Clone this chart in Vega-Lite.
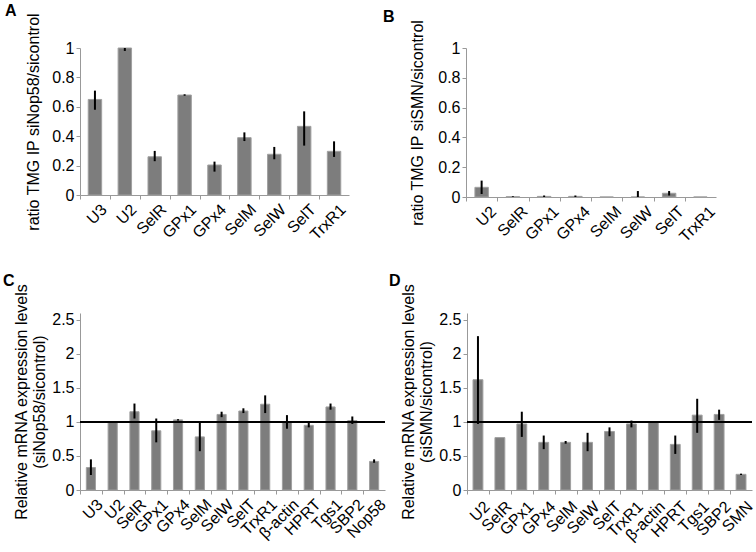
{
  "$schema": "https://vega.github.io/schema/vega-lite/v6.json",
  "padding": {"left": 3, "top": 2, "right": 0, "bottom": 0},
  "background": "white",
  "config": {
    "font": "Liberation Sans",
    "view": {"stroke": null},
    "axis": {"labelFontSize": 16, "titleFontSize": 16, "labelColor": "black", "titleColor": "black", "titleFontWeight": "normal", "domainColor": "#999999", "tickColor": "#999999", "grid": false, "tickSize": 4, "labelOverlap": false},
    "title": {"fontSize": 16, "fontWeight": "bold", "anchor": "start", "frame": "group", "color": "black"}
  },
  "datasets": {
    "A": [
      {"g": "U3", "v": 0.65, "lo": 0.58, "hi": 0.71},
      {"g": "U2", "v": 1.0, "lo": 0.98, "hi": 1.0},
      {"g": "SelR", "v": 0.26, "lo": 0.23, "hi": 0.30},
      {"g": "GPx1", "v": 0.68, "lo": 0.675, "hi": 0.685},
      {"g": "GPx4", "v": 0.204, "lo": 0.159, "hi": 0.227},
      {"g": "SelM", "v": 0.39, "lo": 0.367, "hi": 0.426},
      {"g": "SelW", "v": 0.277, "lo": 0.243, "hi": 0.327},
      {"g": "SelT", "v": 0.467, "lo": 0.336, "hi": 0.569},
      {"g": "TrxR1", "v": 0.297, "lo": 0.259, "hi": 0.365}
    ],
    "B": [
      {"g": "U2", "v": 0.065, "lo": 0.02, "hi": 0.11},
      {"g": "SelR", "v": 0.002, "lo": 0.0, "hi": 0.005},
      {"g": "GPx1", "v": 0.004, "lo": 0.0, "hi": 0.01},
      {"g": "GPx4", "v": 0.004, "lo": 0.0, "hi": 0.01},
      {"g": "SelM", "v": 0.0, "lo": 0.0, "hi": 0.0},
      {"g": "SelW", "v": 0.0, "lo": 0.0, "hi": 0.04},
      {"g": "SelT", "v": 0.025, "lo": 0.01, "hi": 0.04},
      {"g": "TrxR1", "v": 0.0, "lo": 0.0, "hi": 0.0}
    ],
    "C": [
      {"g": "U3", "v": 0.33, "lo": 0.22, "hi": 0.45},
      {"g": "U2", "v": 1.0, "lo": 1.0, "hi": 1.0},
      {"g": "SelR", "v": 1.15, "lo": 1.05, "hi": 1.27},
      {"g": "GPx1", "v": 0.87, "lo": 0.7, "hi": 1.05},
      {"g": "GPx4", "v": 1.03, "lo": 1.02, "hi": 1.04},
      {"g": "SelM", "v": 0.78, "lo": 0.57, "hi": 1.0},
      {"g": "SelW", "v": 1.11, "lo": 1.07, "hi": 1.15},
      {"g": "SelT", "v": 1.16, "lo": 1.13, "hi": 1.2},
      {"g": "TrxR1", "v": 1.26, "lo": 1.13, "hi": 1.39},
      {"g": "β-actin", "v": 1.0, "lo": 0.9, "hi": 1.1},
      {"g": "HPRT", "v": 0.95, "lo": 0.92, "hi": 0.99},
      {"g": "Tgs1", "v": 1.22, "lo": 1.18, "hi": 1.27},
      {"g": "SBP2", "v": 1.02, "lo": 0.97, "hi": 1.08},
      {"g": "Nop58", "v": 0.42, "lo": 0.4, "hi": 0.45}
    ],
    "D": [
      {"g": "U2", "v": 1.62, "lo": 0.97, "hi": 2.26},
      {"g": "SelR", "v": 0.77, "lo": 0.77, "hi": 0.77},
      {"g": "GPx1", "v": 0.97, "lo": 0.78, "hi": 1.15},
      {"g": "GPx4", "v": 0.7, "lo": 0.6, "hi": 0.8},
      {"g": "SelM", "v": 0.7, "lo": 0.68, "hi": 0.72},
      {"g": "SelW", "v": 0.7, "lo": 0.57, "hi": 0.84},
      {"g": "SelT", "v": 0.86, "lo": 0.79, "hi": 0.92},
      {"g": "TrxR1", "v": 0.97, "lo": 0.92, "hi": 1.02},
      {"g": "β-actin", "v": 1.0, "lo": 1.0, "hi": 1.0},
      {"g": "HPRT", "v": 0.67, "lo": 0.53, "hi": 0.8},
      {"g": "Tgs1", "v": 1.1, "lo": 0.84, "hi": 1.34},
      {"g": "SBP2", "v": 1.11, "lo": 1.03, "hi": 1.18},
      {"g": "SMN", "v": 0.23, "lo": 0.22, "hi": 0.24}
    ]
  },
  "vconcat": [
    {
      "hconcat": [
        {
          "title": {"text": "A", "dx": -75, "offset": -6},
          "width": 269, "height": 147,
          "data": {"name": "A"},
          "layer": [
            {"mark": {"type": "bar", "color": "#7d7d7d", "stroke": "#a0a0a0", "strokeWidth": 1},
              "encoding": {
                "x": {"field": "g", "type": "nominal", "sort": null, "scale": {"paddingInner": 0.55, "paddingOuter": 0.275},
                  "axis": {"title": null, "labelAngle": -45, "labelAlign": "right", "labelBaseline": "top", "tickOffset": -14.94, "labelOffset": 18, "labelPadding": 2}},
                "y": {"field": "v", "type": "quantitative", "scale": {"domain": [0, 1]},
                  "axis": {"title": "ratio TMG IP siNop58/sicontrol", "values": [0, 0.2, 0.4, 0.6, 0.8, 1], "format": "~g", "titlePadding": 10, "labelOverlap": false}}}},
            {"mark": {"type": "rule", "color": "black", "strokeWidth": 2},
              "encoding": {
                "x": {"field": "g", "type": "nominal", "sort": null},
                "y": {"field": "lo", "type": "quantitative",
                  "axis": {"title": "ratio TMG IP siNop58/sicontrol", "values": [0, 0.2, 0.4, 0.6, 0.8, 1], "format": "~g", "titlePadding": 10, "labelOverlap": false}},
                "y2": {"field": "hi"}}}
          ]
        },
        {
          "title": {"text": "B", "dx": -83, "offset": -6},
          "width": 250, "height": 149,
          "data": {"name": "B"},
          "layer": [
            {"mark": {"type": "bar", "color": "#7d7d7d", "stroke": "#a0a0a0", "strokeWidth": 1},
              "encoding": {
                "x": {"field": "g", "type": "nominal", "sort": null, "scale": {"paddingInner": 0.57, "paddingOuter": 0.285},
                  "axis": {"title": null, "labelAngle": -45, "labelAlign": "right", "labelBaseline": "top", "tickOffset": -15.6, "labelOffset": 21.6, "labelPadding": 2}},
                "y": {"field": "v", "type": "quantitative", "scale": {"domain": [0, 1]},
                  "axis": {"title": "ratio TMG IP siSMN/sicontrol", "values": [0, 0.2, 0.4, 0.6, 0.8, 1], "format": "~g", "titlePadding": 12, "labelOverlap": false}}}},
            {"mark": {"type": "rule", "color": "black", "strokeWidth": 2},
              "encoding": {
                "x": {"field": "g", "type": "nominal", "sort": null},
                "y": {"field": "lo", "type": "quantitative",
                  "axis": {"title": "ratio TMG IP siSMN/sicontrol", "values": [0, 0.2, 0.4, 0.6, 0.8, 1], "format": "~g", "titlePadding": 12, "labelOverlap": false}},
                "y2": {"field": "hi"}}}
          ]
        }
      ],
      "spacing": 34
    },
    {
      "hconcat": [
        {
          "title": {"text": "C", "dx": -77, "offset": -6},
          "width": 305, "height": 177,
          "data": {"name": "C"},
          "layer": [
            {"mark": {"type": "bar", "color": "#7d7d7d", "stroke": "#a0a0a0", "strokeWidth": 1},
              "encoding": {
                "x": {"field": "g", "type": "nominal", "sort": null, "scale": {"paddingInner": 0.58, "paddingOuter": 0.29},
                  "axis": {"title": null, "labelAngle": -45, "labelAlign": "right", "labelBaseline": "top", "tickOffset": -10.9, "labelOffset": 14, "labelPadding": 2}},
                "y": {"field": "v", "type": "quantitative", "scale": {"domain": [0, 2.5]},
                  "axis": {"title": ["Relative mRNA expression levels", "(siNop58/sicontrol)"], "values": [0, 0.5, 1, 1.5, 2, 2.5], "format": "~g", "titlePadding": 4, "labelOverlap": false}}}},
            {"mark": {"type": "rule", "color": "black", "strokeWidth": 2},
              "encoding": {
                "x": {"field": "g", "type": "nominal", "sort": null},
                "y": {"field": "lo", "type": "quantitative",
                  "axis": {"title": ["Relative mRNA expression levels", "(siNop58/sicontrol)"], "values": [0, 0.5, 1, 1.5, 2, 2.5], "format": "~g", "titlePadding": 4, "labelOverlap": false}},
                "y2": {"field": "hi"}}},
            {"mark": {"type": "rule", "color": "black", "strokeWidth": 1},
              "encoding": {"y": {"datum": 1, "type": "quantitative",
                "axis": {"title": ["Relative mRNA expression levels", "(siNop58/sicontrol)"], "values": [0, 0.5, 1, 1.5, 2, 2.5], "format": "~g", "titlePadding": 4, "labelOverlap": false}}}}
          ]
        },
        {
          "title": {"text": "D", "dx": -78, "offset": -6},
          "width": 285, "height": 177,
          "data": {"name": "D"},
          "layer": [
            {"mark": {"type": "bar", "color": "#7d7d7d", "stroke": "#a0a0a0", "strokeWidth": 1},
              "encoding": {
                "x": {"field": "g", "type": "nominal", "sort": null, "scale": {"paddingInner": 0.55, "paddingOuter": 0.275},
                  "axis": {"title": null, "labelAngle": -45, "labelAlign": "right", "labelBaseline": "top", "tickOffset": -10.96, "labelOffset": 14, "labelPadding": 4}},
                "y": {"field": "v", "type": "quantitative", "scale": {"domain": [0, 2.5]},
                  "axis": {"title": ["Relative mRNA expression levels", "(siSMN/sicontrol)"], "values": [0, 0.5, 1, 1.5, 2, 2.5], "format": "~g", "titlePadding": 4, "labelOverlap": false}}}},
            {"mark": {"type": "rule", "color": "black", "strokeWidth": 2},
              "encoding": {
                "x": {"field": "g", "type": "nominal", "sort": null},
                "y": {"field": "lo", "type": "quantitative",
                  "axis": {"title": ["Relative mRNA expression levels", "(siSMN/sicontrol)"], "values": [0, 0.5, 1, 1.5, 2, 2.5], "format": "~g", "titlePadding": 4, "labelOverlap": false}},
                "y2": {"field": "hi"}}},
            {"mark": {"type": "rule", "color": "black", "strokeWidth": 1},
              "encoding": {"y": {"datum": 1, "type": "quantitative",
                "axis": {"title": ["Relative mRNA expression levels", "(siSMN/sicontrol)"], "values": [0, 0.5, 1, 1.5, 2, 2.5], "format": "~g", "titlePadding": 4, "labelOverlap": false}}}}
          ]
        }
      ],
      "spacing": 0
    }
  ],
  "spacing": 28
}
